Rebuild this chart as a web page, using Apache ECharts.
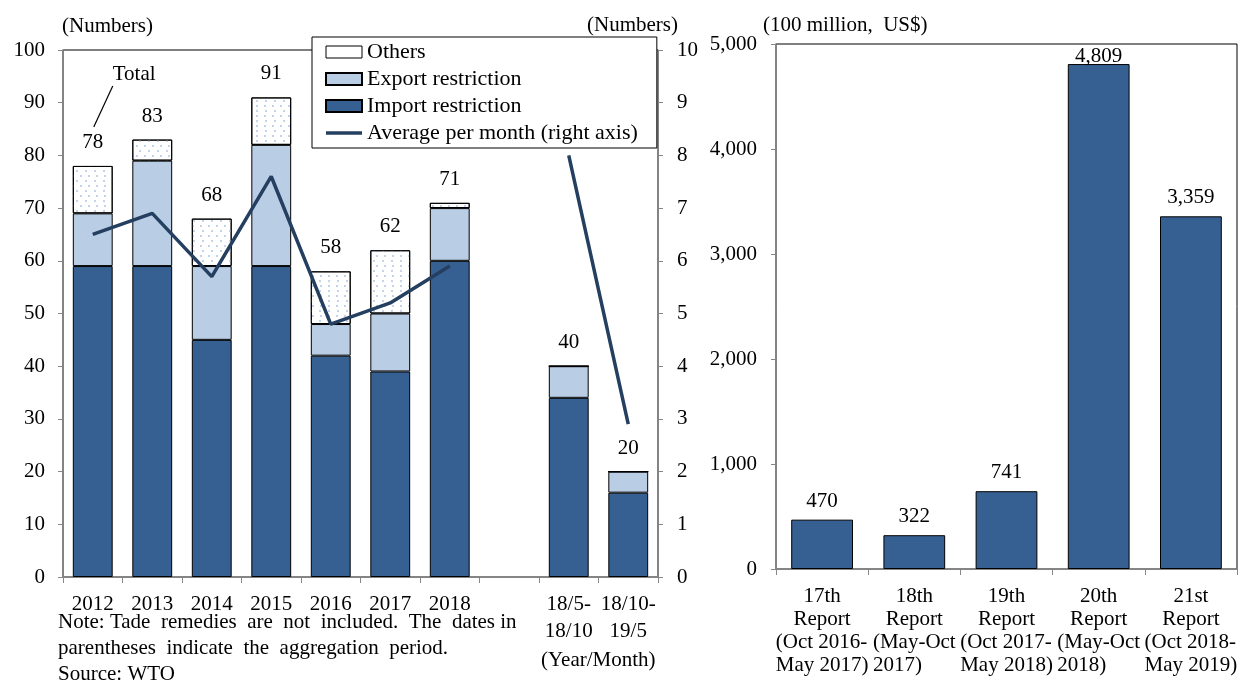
<!DOCTYPE html>
<html>
<head>
<meta charset="utf-8">
<script src="https://cdn.jsdelivr.net/npm/echarts@6/dist/echarts.min.js"></script>
<style>
html,body{margin:0;padding:0;background:#fff;}
#c{width:1244px;height:686px;}
</style>
</head>
<body>
<div id="c"></div>
<script>
// ---- Left chart data ----
const periods = ['2012','2013','2014','2015','2016','2017','2018','','18/5-\n18/10','18/10-\n19/5'];
const importRestriction = [59, 59, 45, 59, 42, 39, 60, null, 34, 16];
const exportRestriction = [10, 20, 14, 23, 6, 11, 10, null, 6, 4];
const others = [9, 4, 9, 9, 10, 12, 1, null, 0, 0];
const totals = [78, 83, 68, 91, 58, 62, 71, null, 40, 20];
const avgPerMonth = [6.5, 6.9, 5.7, 7.6, 4.8, 5.2, 5.9, null, 8.0, 2.9];
const leftTicks = [0, 10, 20, 30, 40, 50, 60, 70, 80, 90, 100];
const rightTicks = [0, 1, 2, 3, 4, 5, 6, 7, 8, 9, 10];

// ---- Right chart data ----
const reportNames = ['17th', '18th', '19th', '20th', '21st'];
const reportPeriods = [
  ['(Oct 2016-', 'May 2017)'],
  ['(May-Oct', '2017)'],
  ['(Oct 2017-', 'May 2018)'],
  ['(May-Oct', '2018)'],
  ['(Oct 2018-', 'May 2019)']
];
const tradeCoverage = [470, 322, 741, 4809, 3359];
const valueTicks = [0, 1000, 2000, 3000, 4000, 5000];

const FONT = '"Liberation Serif", "Times New Roman", serif';
const FS = 21;
const LFS = 22;
const AXIS_GRAY = '#868686';
const C_IMPORT = '#376092';
const C_EXPORT = '#B9CDE5';
const C_LINE = '#243F60';

const chart = echarts.init(document.getElementById('c'), null, {renderer: 'canvas'});

const dotDecal = {
  symbol: 'rect',
  symbolSize: 1,
  color: '#C3D4EA',
  dashArrayX: [[1.3, 5.4], [0, 3.35, 1.3, 2.05]],
  dashArrayY: [1.3, 2.1],
  rotation: 0
};

const fmtComma = v => String(v).replace(/\B(?=(\d{3})+(?!\d))/g, ',');

const option = {
  animation: false,
  backgroundColor: '#fff',
  textStyle: {fontFamily: FONT, fontSize: FS, color: '#000'},
  grid: [
    {left: 63, right: 586, top: 50, bottom: 109, show: true, borderColor: '#000', borderWidth: 1, containLabel: false},
    {left: 776, right: 7, top: 44, bottom: 117, show: true, borderColor: '#000', borderWidth: 1, containLabel: false}
  ],
  legend: {
    orient: 'vertical',
    left: 312,
    top: 37,
    data: [
      {name: 'Others', icon: 'rect', itemStyle: {decal: 'none', color: '#fff', borderColor: '#000', borderWidth: 1}},
      {name: 'Export restriction', icon: 'rect'},
      {name: 'Import restriction', icon: 'rect'},
      {name: 'Average per month (right axis)', icon: 'path://M0,0H36V3.5H0Z'}
    ],
    itemWidth: 36,
    itemHeight: 12,
    itemGap: 5,
    padding: [4, 19, 4, 13],
    borderColor: '#000',
    borderWidth: 1,
    backgroundColor: '#fff',
    textStyle: {fontFamily: FONT, fontSize: LFS, color: '#000', padding: [0, 0, 0, 0]},
    z: 10
  },
  xAxis: [
    {
      type: 'category', gridIndex: 0, data: periods,
      boundaryGap: true,
      axisLine: {lineStyle: {color: AXIS_GRAY, width: 1.5}},
      axisTick: {show: true, alignWithLabel: false, length: 6, inside: false, lineStyle: {color: AXIS_GRAY}},
      axisLabel: {interval: 0, margin: 14, fontFamily: FONT, fontSize: FS, color: '#000', lineHeight: 27}
    },
    {
      type: 'category', gridIndex: 1, data: reportNames,
      boundaryGap: true,
      axisLine: {lineStyle: {color: AXIS_GRAY, width: 1.5}},
      axisTick: {show: true, alignWithLabel: false, length: 6, lineStyle: {color: AXIS_GRAY}},
      axisLabel: {
        interval: 0, margin: 16, fontFamily: FONT, fontSize: FS, color: '#000', lineHeight: 23,
        formatter: (v, i) => '{c|' + v + '}\n{c|Report}\n{l|' + reportPeriods[i][0] + '}\n{l|' + reportPeriods[i][1] + '}',
        rich: {
          c: {align: 'center', fontFamily: FONT, fontSize: FS, lineHeight: 23, color: '#000'},
          l: {align: 'left', fontFamily: FONT, fontSize: FS, lineHeight: 23, color: '#000'}
        }
      }
    }
  ],
  yAxis: [
    {
      type: 'value', gridIndex: 0, min: leftTicks[0], max: leftTicks[leftTicks.length - 1], interval: leftTicks[1] - leftTicks[0],
      axisLine: {show: true, lineStyle: {color: AXIS_GRAY, width: 1.5}},
      axisTick: {show: true, length: 5, lineStyle: {color: AXIS_GRAY}},
      splitLine: {show: false},
      axisLabel: {margin: 18, fontFamily: FONT, fontSize: FS, color: '#000'}
    },
    {
      type: 'value', gridIndex: 0, position: 'right', min: rightTicks[0], max: rightTicks[rightTicks.length - 1], interval: rightTicks[1] - rightTicks[0],
      axisLine: {show: true, lineStyle: {color: AXIS_GRAY, width: 1.5}},
      axisTick: {show: true, length: 5, lineStyle: {color: AXIS_GRAY}},
      splitLine: {show: false},
      axisLabel: {margin: 19, fontFamily: FONT, fontSize: FS, color: '#000'}
    },
    {
      type: 'value', gridIndex: 1, min: valueTicks[0], max: valueTicks[valueTicks.length - 1], interval: valueTicks[1] - valueTicks[0],
      axisLine: {show: true, lineStyle: {color: AXIS_GRAY, width: 1.5}},
      axisTick: {show: true, length: 5, lineStyle: {color: AXIS_GRAY}},
      splitLine: {show: false},
      axisLabel: {margin: 19, fontFamily: FONT, fontSize: FS, color: '#000', formatter: fmtComma}
    }
  ],
  series: [
    {
      name: 'Import restriction', type: 'bar', stack: 'm', xAxisIndex: 0, yAxisIndex: 0,
      data: importRestriction, barWidth: '67%',
      itemStyle: {color: C_IMPORT, borderColor: '#000', borderWidth: 1}
    },
    {
      name: 'Export restriction', type: 'bar', stack: 'm', xAxisIndex: 0, yAxisIndex: 0,
      data: exportRestriction, barWidth: '67%',
      itemStyle: {color: C_EXPORT, borderColor: '#000', borderWidth: 1}
    },
    {
      name: 'Others', type: 'bar', stack: 'm', xAxisIndex: 0, yAxisIndex: 0,
      data: others, barWidth: '67%',
      itemStyle: {color: '#fff', borderColor: '#000', borderWidth: 1, decal: dotDecal}
    },
    {
      name: 'Total', type: 'scatter', xAxisIndex: 0, yAxisIndex: 0,
      data: totals, symbolSize: 0, silent: true,
      itemStyle: {opacity: 1},
      label: {show: true, position: 'top', distance: 13, fontFamily: FONT, fontSize: FS, color: '#000'},
      z: 5
    },
    {
      name: 'Average per month (right axis)', type: 'line', xAxisIndex: 0, yAxisIndex: 1,
      data: avgPerMonth, symbol: 'none', connectNulls: false,
      lineStyle: {color: C_LINE, width: 3.5},
      itemStyle: {color: C_LINE},
      z: 6
    },
    {
      name: 'Trade coverage', type: 'bar', xAxisIndex: 1, yAxisIndex: 2,
      data: tradeCoverage.map(v => v > 4500 ? {value: v, label: {distance: -3}} : v),
      barWidth: '67%',
      itemStyle: {color: C_IMPORT, borderColor: '#000', borderWidth: 1},
      label: {show: true, position: 'top', distance: 8, fontFamily: FONT, fontSize: FS, color: '#000', formatter: p => fmtComma(p.value)}
    }
  ]
};
chart.setOption(option);

// Annotation texts and the "Total" leader line
const p2012 = chart.convertToPixel({xAxisIndex: 0, yAxisIndex: 0}, [0, totals[0]]);
chart.setOption({
  graphic: [
    {type: 'text', left: 62, top: 16, style: {text: '(Numbers)', font: FS + 'px ' + FONT, fill: '#000'}},
    {type: 'text', left: 587, top: 15, style: {text: '(Numbers)', font: FS + 'px ' + FONT, fill: '#000'}},
    {type: 'text', left: 763, top: 15, style: {text: '(100 million,  US$)', font: FS + 'px ' + FONT, fill: '#000'}},
    {type: 'text', left: 541, top: 650, style: {text: '(Year/Month)', font: FS + 'px ' + FONT, fill: '#000'}},
    {type: 'text', left: 58, top: 612, style: {text: 'Note: Tade  remedies  are  not  included.  The  dates in', font: FS + 'px ' + FONT, fill: '#000'}},
    {type: 'text', left: 58, top: 638, style: {text: 'parentheses  indicate  the  aggregation  period.', font: FS + 'px ' + FONT, fill: '#000'}},
    {type: 'text', left: 58, top: 664, style: {text: 'Source: WTO', font: FS + 'px ' + FONT, fill: '#000'}},
    {type: 'text', x: p2012[0] + 20, y: p2012[1] - 102, style: {text: 'Total', font: FS + 'px ' + FONT, fill: '#000'}},
    {type: 'line', shape: {x1: p2012[0] + 20, y1: p2012[1] - 80, x2: p2012[0] + 1, y2: p2012[1] - 39}, style: {stroke: '#000', lineWidth: 1.2}}
  ]
});
</script>
</body>
</html>
